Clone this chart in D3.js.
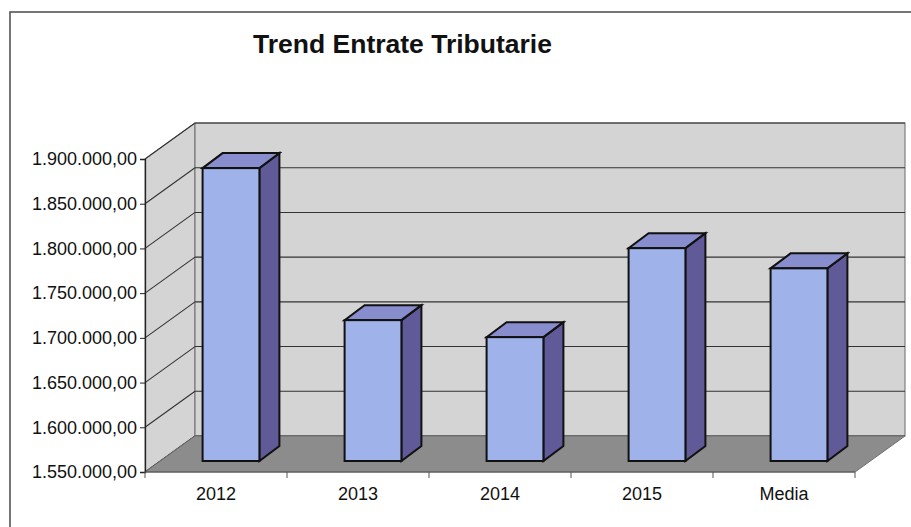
<!DOCTYPE html>
<html>
<head>
<meta charset="utf-8">
<script src="https://cdn.jsdelivr.net/npm/d3@7"></script>
<style>
  body { margin: 0; background: #fff; }
  svg { display: block; font-family: "Liberation Sans", Arial, sans-serif; }
</style>
</head>
<body>
<svg id="chart" width="911" height="527"></svg>
<script>
// dati
const categories = ["2012", "2013", "2014", "2015", "Media"];
const values = [1877500, 1707500, 1688500, 1788000, 1765400];
const yTicks = [1550000, 1600000, 1650000, 1700000, 1750000, 1800000, 1850000, 1900000];
const chartTitle = "Trend Entrate Tributarie";

const svg = d3.select("#chart");

// formato italiano 1.900.000,00
const it = d3.formatLocale({ decimal: ",", thousands: ".", grouping: [3], currency: ["€", ""] });
const fmt = it.format(",.2f");

// piano frontale
const plotLeft = 145, plotRight = 855, plotBottom = 472, plotTop = 159;
// profondità del grafico (parete di fondo)
const depthX = 50, depthY = 36;

const x = d3.scaleBand()
    .domain(categories)
    .range([plotLeft, plotRight])
    .paddingInner(0.6)
    .paddingOuter(0.3);

const y = d3.scaleLinear()
    .domain([1550000, 1900000])
    .range([plotBottom, plotTop]);

// cornice esterna
svg.append("path")
    .attr("d", "M10,527 L10,12 L911,12")
    .attr("fill", "none")
    .attr("stroke", "#4a4a4a")
    .attr("stroke-width", 1.5);

// titolo
svg.append("text")
    .attr("x", 253)
    .attr("y", 53)
    .attr("font-size", 26.5)
    .attr("font-weight", "bold")
    .attr("fill", "#111")
    .text(chartTitle);

const wallFill = "#d4d4d4";
const yTop = y(1900000), yBot = y(1550000);

// parete laterale
svg.append("polygon")
    .attr("points", [[plotLeft, yTop], [plotLeft + depthX, yTop - depthY], [plotLeft + depthX, yBot - depthY], [plotLeft, yBot]].join(" "))
    .attr("fill", wallFill)
    .attr("stroke", "#777")
    .attr("stroke-width", 1);

// parete di fondo
svg.append("rect")
    .attr("x", plotLeft + depthX)
    .attr("y", yTop - depthY)
    .attr("width", plotRight - plotLeft)
    .attr("height", yBot - yTop)
    .attr("fill", wallFill)
    .attr("stroke", "#6a6a6a")
    .attr("stroke-width", 1);

// griglia
const grid = svg.append("g").attr("stroke", "#333").attr("stroke-width", 1.1).attr("fill", "none");
yTicks.forEach(t => {
    grid.append("line")
        .attr("x1", plotLeft + depthX).attr("x2", plotRight + depthX)
        .attr("y1", y(t) - depthY).attr("y2", y(t) - depthY);
    grid.append("line")
        .attr("x1", plotLeft).attr("x2", plotLeft + depthX)
        .attr("y1", y(t)).attr("y2", y(t) - depthY);
});

// pavimento
svg.append("polygon")
    .attr("points", [[plotLeft, yBot], [plotRight, yBot], [plotRight + depthX, yBot - depthY], [plotLeft + depthX, yBot - depthY]].join(" "))
    .attr("fill", "#8c8c8c")
    .attr("stroke", "#6e6e6e")
    .attr("stroke-width", 1);

// asse y
const yAxis = svg.append("g")
    .attr("transform", `translate(${plotLeft},0)`)
    .call(d3.axisLeft(y).tickValues(yTicks).tickFormat(fmt).tickSize(5).tickPadding(3));
yAxis.select(".domain").attr("stroke", "#222").attr("stroke-width", 1.3);
yAxis.selectAll(".tick line").attr("stroke", "#222");
yAxis.selectAll("text")
    .attr("font-size", 18)
    .attr("font-family", "Liberation Sans, Arial, sans-serif")
    .attr("fill", "#111");

// asse x (linee di divisione tra le categorie)
const xAxis = svg.append("g")
    .attr("transform", `translate(0,${plotBottom})`);
xAxis.append("line")
    .attr("x1", plotLeft).attr("x2", plotRight)
    .attr("stroke", "#555").attr("stroke-width", 1);
const step = x.step();
d3.range(categories.length + 1).forEach(i => {
    xAxis.append("line")
        .attr("x1", plotLeft + i * step).attr("x2", plotLeft + i * step)
        .attr("y1", 0).attr("y2", 6)
        .attr("stroke", "#555");
});
xAxis.selectAll("text.cat")
    .data(categories)
    .enter().append("text")
    .attr("class", "cat")
    .attr("x", d => x(d) + x.bandwidth() / 2)
    .attr("y", 28)
    .attr("text-anchor", "middle")
    .attr("font-size", 18)
    .attr("fill", "#111")
    .text(d => d);

// barre 3D
const barOffX = 15, barOffY = 11;   // posizione in profondità della faccia frontale
const bdx = 20, bdy = 15;           // profondità della barra
const bars = svg.append("g")
    .attr("stroke", "#111")
    .attr("stroke-width", 2)
    .attr("stroke-linejoin", "miter");

categories.forEach((c, i) => {
    const x0 = x(c) + barOffX;
    const w = x.bandwidth();
    const y0 = y(values[i]) - barOffY;
    const y1 = yBot - barOffY;
    const g = bars.append("g");
    // lato
    g.append("polygon")
        .attr("points", [[x0 + w, y0], [x0 + w + bdx, y0 - bdy], [x0 + w + bdx, y1 - bdy], [x0 + w, y1]].join(" "))
        .attr("fill", "#615a98");
    // sopra
    g.append("polygon")
        .attr("points", [[x0, y0], [x0 + w, y0], [x0 + w + bdx, y0 - bdy], [x0 + bdx, y0 - bdy]].join(" "))
        .attr("fill", "#878dcd");
    // fronte
    g.append("rect")
        .attr("x", x0).attr("y", y0)
        .attr("width", w).attr("height", y1 - y0)
        .attr("fill", "#9fb3ea");
});
</script>
</body>
</html>
